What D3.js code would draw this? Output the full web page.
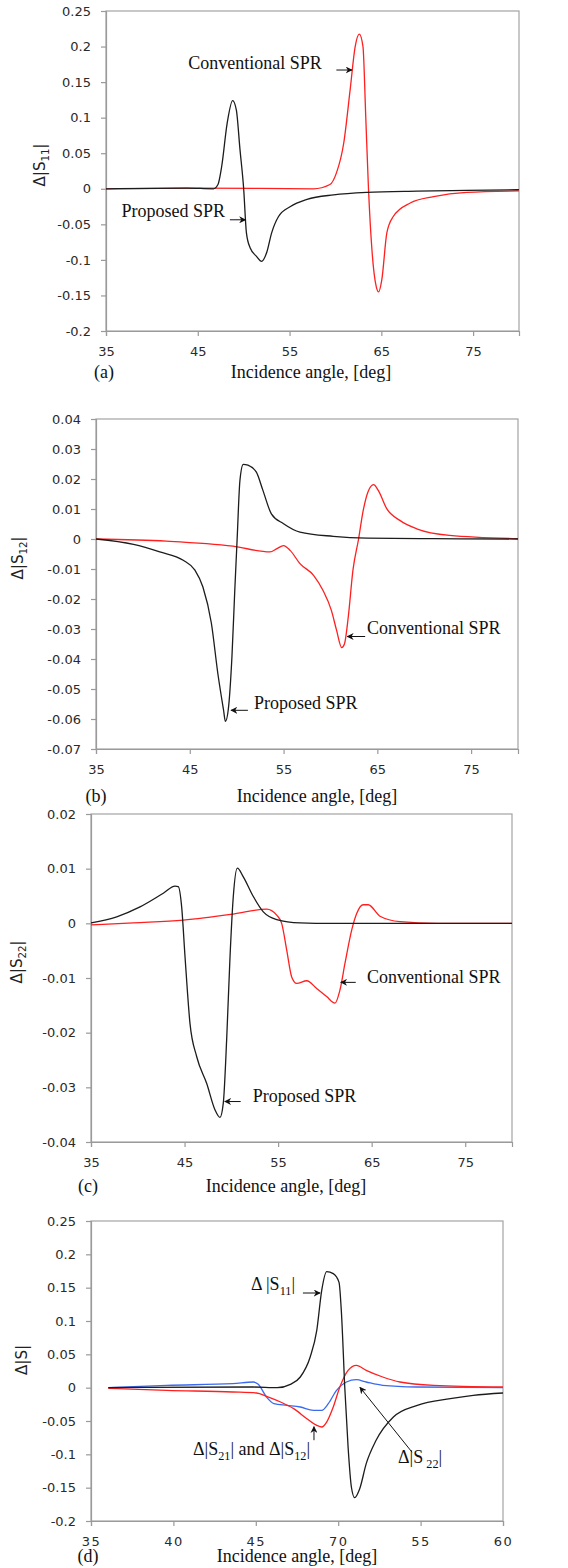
<!DOCTYPE html>
<html>
<head>
<meta charset="utf-8">
<script src="https://cdn.jsdelivr.net/npm/d3@7/dist/d3.min.js"></script>
<style>
  body { margin: 0; background: #fff; }
  .tick text { font-family: "DejaVu Sans", Verdana, sans-serif; font-size: 13px; fill: #2a2a2a; }
  .axis path, .axis line { stroke: #9a9a9a; }
  .serif { font-family: "Liberation Serif", "Times New Roman", serif; fill: #111; }
  .ylab { font-family: "DejaVu Sans", sans-serif; fill: #222; }
</style>
</head>
<body>
<div id="fig"></div>
<script>
// ---- data: [incidence angle (deg), delta value] ----
const aProposed = [[35,0],[43.8,0.001],[46.7,0],[47.2,0.006],[47.6,0.031],[48.2,0.092],[48.8,0.124],[49.2,0.111],
  [49.6,0.055],[50.0,0],[50.3,-0.062],[50.7,-0.083],[51.4,-0.095],[51.95,-0.102],[52.5,-0.09],[53.05,-0.062],
  [53.8,-0.039],[55.1,-0.025],[56.9,-0.015],[59.8,-0.0085],[63.4,-0.005],[68.9,-0.0033],[74.3,-0.0023],[80,-0.0013]];
const aConventional = [[35,0],[45,0.001],[57.6,0],[59.4,0.006],[60.1,0.022],[60.9,0.064],[61.6,0.139],[62.15,0.2],
  [62.6,0.2175],[63.0,0.2],[63.3,0.102],[63.6,0],[64.0,-0.09],[64.45,-0.138],[64.7,-0.145],[65.05,-0.128],
  [65.6,-0.062],[66.3,-0.039],[68.15,-0.02],[70.7,-0.011],[74.3,-0.005],[80,-0.003]];

const bProposed = [[35,0],[39,-0.0018],[41.8,-0.0043],[44.3,-0.0071],[45.55,-0.0104],[46.4,-0.016],[47.3,-0.028],
  [48.0,-0.045],[48.6,-0.057],[48.8,-0.0608],[49.1,-0.057],[49.5,-0.039],[49.8,-0.017],[50.05,0],[50.35,0.0196],
  [50.7,0.0249],[51.2,0.0246],[52.1,0.0223],[52.8,0.0162],[53.7,0.0084],[55,0.0051],[56.75,0.0023],[60.3,0.0009],
  [63.9,0.0003],[71,0.0001],[80,0]];
const bConventional = [[35,0],[42.5,-0.0007],[49.6,-0.0024],[53.55,-0.0043],[54.3,-0.0032],[55.0,-0.0022],
  [55.7,-0.0038],[56.75,-0.0082],[58.2,-0.0121],[59.2,-0.0171],[60.1,-0.0238],[60.65,-0.0304],[61.2,-0.0362],
  [61.5,-0.0349],[61.9,-0.026],[62.4,-0.0104],[63.0,0],[63.5,0.0096],[64.0,0.0157],[64.6,0.0181],[65.1,0.0162],
  [66.0,0.0101],[67.4,0.0062],[69.2,0.0034],[72.7,0.0012],[80,0.0001]];

const cProposed = [[35,0.0001],[37.75,0.0012],[40.24,0.003],[42.73,0.0055],[43.98,0.0068],[44.33,0.0067],
  [44.69,0.003],[45.05,-0.0061],[45.58,-0.0183],[46.3,-0.0244],[47.37,-0.0293],[48.25,-0.0341],[48.79,-0.0355],
  [49.14,-0.0329],[49.5,-0.0213],[49.86,-0.0061],[50.21,0.0049],[50.64,0.0101],[51.28,0.0085],[52.35,0.0049],
  [53.42,0.0021],[54.85,0.0007],[57.34,0.0001],[60.7,0],[80,0]];
const cConventional = [[35,-0.0003],[39.52,0.0001],[44.87,0.0006],[50.21,0.0017],[53.78,0.0026],[54.85,0.0015],
  [55.38,0],[55.92,-0.0049],[56.45,-0.0098],[56.99,-0.011],[58.06,-0.0105],[59.12,-0.0119],[60.19,-0.0134],
  [61.08,-0.0146],[61.61,-0.0122],[62.15,-0.0073],[62.87,-0.0012],[63.4,0.0018],[64.1,0.0034],[64.64,0.0034],
  [65.89,0.0013],[68.03,0.0003],[72,0],[80,0]];

const dS11 = [[36.05,0],[44.85,0.001],[46.3,0],[47.1,0.005],[47.7,0.016],[48.3,0.046],[48.7,0.086],[49.0,0.146],
  [49.3,0.174],[49.7,0.171],[50.05,0.158],[50.2,0.111],[50.4,0],[50.6,-0.089],[50.8,-0.149],[51.0,-0.165],
  [51.3,-0.152],[51.7,-0.114],[52.3,-0.079],[53.35,-0.044],[54.8,-0.0265],[56.8,-0.0165],[58.2,-0.0115],[60,-0.008]];
const dS21 = [[36.05,-0.001],[39.6,-0.004],[43.6,-0.0065],[45.05,-0.008],[45.65,-0.013],[46.5,-0.0215],
  [47.3,-0.0315],[48.1,-0.0465],[48.7,-0.0566],[49.0,-0.059],[49.3,-0.0516],[49.7,-0.029],[50.1,0.001],
  [50.6,0.026],[51.1,0.0335],[51.7,0.026],[52.7,0.016],[53.75,0.0085],[55.8,0.0035],[60,0.001]];
const dS22 = [[36.05,0],[39.6,0.0035],[43.6,0.006],[44.85,0.0085],[45.15,0.005],[45.65,-0.014],[46.1,-0.024],
  [46.9,-0.0265],[47.7,-0.029],[48.5,-0.034],[49.0,-0.034],[49.4,-0.024],[49.9,-0.004],[50.5,0.0085],
  [51.1,0.012],[51.7,0.0085],[52.7,0.0035],[54.75,0.001],[60,0]];

// tick labels
const xTicksABC = [35, 45, 55, 65, 75];
const xTicksD = [35, 40, 45, 50, 55, 60];
const xTickLabelsD = ["35", "40", "45", "70", "55", "60"]; // as printed in the figure
const yTicksA = [0.25, 0.2, 0.15, 0.1, 0.05, 0, -0.05, -0.1, -0.15, -0.2];
const yTicksB = [0.04, 0.03, 0.02, 0.01, 0, -0.01, -0.02, -0.03, -0.04, -0.05, -0.06, -0.07];
const yTicksC = [0.02, 0.01, 0, -0.01, -0.02, -0.03, -0.04];

const BLACK = '#1c1c1c', RED = '#ff1f1f', BLUE = '#3a6af0';

const svg = d3.select('#fig').append('svg')
  .attr('width', 568).attr('height', 1568);

svg.append('defs').append('marker')
  .attr('id', 'arrow')
  .attr('viewBox', '0 0 10 10')
  .attr('refX', 9).attr('refY', 5)
  .attr('markerWidth', 7).attr('markerHeight', 7)
  .attr('markerUnits', 'userSpaceOnUse')
  .attr('orient', 'auto')
  .append('path').attr('d', 'M0,0 L10,5 L0,10 L3,5 z').attr('fill', '#111');

// write text with subscripts: parts = [[string, isSub], ...]
function richText(sel, parts, size) {
  let shifted = false;
  parts.forEach(([t, sub]) => {
    const ts = sel.append('tspan').text(t);
    if (sub) {
      ts.attr('font-size', size * 0.68).attr('dy', shifted ? 0 : size * 0.28);
      shifted = true;
    } else {
      ts.attr('font-size', size).attr('dy', shifted ? -size * 0.28 : 0);
      shifted = false;
    }
  });
}

const fmt = d => String(+d.toFixed(3));

class SPanel {
  constructor(_config) {
    this.config = _config;
    this.initVis();
  }

  initVis() {
    let vis = this;
    const c = vis.config;

    vis.xScale = d3.scaleLinear().domain(c.xDomain).range([c.left, c.right]);
    vis.yScale = d3.scaleLinear().domain(c.yDomain).range([c.bottom, c.top]);

    vis.g = svg.append('g');

    // plot frame
    vis.g.append('rect')
      .attr('x', c.left).attr('y', c.top)
      .attr('width', c.right - c.left).attr('height', c.bottom - c.top)
      .attr('fill', 'none').attr('stroke', '#a3a3a3').attr('stroke-width', 1.2);

    const xAxis = d3.axisBottom(vis.xScale)
      .tickValues(c.xTicks).tickSize(5).tickPadding(11)
      .tickFormat((d, i) => c.xTickLabels ? c.xTickLabels[i] : d);
    const yAxis = d3.axisLeft(vis.yScale)
      .tickValues(c.yTicks).tickSize(5).tickPadding(10).tickFormat(fmt);

    vis.g.append('g').attr('class', 'axis')
      .attr('transform', `translate(0,${c.bottom})`)
      .call(xAxis)
      .call(g => g.selectAll('path, line').attr('stroke-width', 1.2))
      .call(g => g.selectAll('text').attr('letter-spacing', c.xLetterSpacing || 0));
    vis.g.append('g').attr('class', 'axis')
      .attr('transform', `translate(${c.left},0)`)
      .call(yAxis)
      .call(g => g.selectAll('path, line').attr('stroke-width', 1.2));

    // y label
    const yl = vis.g.append('text').attr('class', 'ylab')
      .attr('text-anchor', 'middle')
      .attr('transform', `translate(${c.yLabelX},${c.yLabelY}) rotate(-90)`)
      .attr('dy', '0.35em');
    richText(yl, c.yLabel, 15);

    // x title and panel tag
    vis.g.append('text').attr('class', 'serif')
      .attr('x', c.titleX).attr('y', c.titleY).attr('dy', '0.35em')
      .attr('text-anchor', 'middle').attr('font-size', 18)
      .text('Incidence angle, [deg]');
    vis.g.append('text').attr('class', 'serif')
      .attr('x', c.tagX).attr('y', c.titleY).attr('dy', '0.35em')
      .attr('text-anchor', 'middle').attr('font-size', 18)
      .text(c.tag);

    vis.updateVis();
  }

  updateVis() {
    let vis = this;
    const c = vis.config;

    const line = d3.line()
      .x(d => vis.xScale(d[0]))
      .y(d => vis.yScale(d[1]))
      .curve(d3.curveMonotoneX);

    vis.g.selectAll('.series')
      .data(c.series)
      .join('path')
      .attr('class', 'series')
      .attr('d', d => line(d.values))
      .attr('fill', 'none')
      .attr('stroke', d => d.color)
      .attr('stroke-width', 1.3);

    // annotations, placed in data units
    c.notes.forEach(n => {
      const t = vis.g.append('text').attr('class', 'serif')
        .attr('x', vis.xScale(n.x)).attr('y', vis.yScale(n.y))
        .attr('dy', '0.35em')
        .attr('text-anchor', n.anchor);
      richText(t, n.parts, 18);
      vis.g.append('line')
        .attr('x1', vis.xScale(n.arrow[0])).attr('y1', vis.yScale(n.arrow[1]))
        .attr('x2', vis.xScale(n.arrow[2])).attr('y2', vis.yScale(n.arrow[3]))
        .attr('stroke', '#111').attr('stroke-width', 1)
        .attr('marker-end', 'url(#arrow)');
    });
  }
}

new SPanel({
  left: 106, right: 519, top: 11, bottom: 331,
  xDomain: [35, 80], yDomain: [-0.2, 0.25],
  xTicks: xTicksABC, yTicks: yTicksA,
  yLabel: [['Δ|S', false], ['11', true], ['|', false]], yLabelX: 45, yLabelY: 165,
  titleX: 311, titleY: 372, tagX: 104, tag: '(a)',
  series: [{values: aConventional, color: RED}, {values: aProposed, color: BLACK}],
  notes: [
    {parts: [['Conventional SPR', false]], x: 58.5, y: 0.169, anchor: 'end', arrow: [60.1, 0.167, 61.8, 0.167]},
    {parts: [['Proposed SPR', false]], x: 47.97, y: -0.039, anchor: 'end', arrow: [48.5, -0.0436, 50.2, -0.0436]}
  ]
});

new SPanel({
  left: 96, right: 518, top: 419, bottom: 749,
  xDomain: [35, 80], yDomain: [-0.07, 0.04],
  xTicks: xTicksABC, yTicks: yTicksB,
  yLabel: [['Δ|S', false], ['12', true], ['|', false]], yLabelX: 23, yLabelY: 558,
  titleX: 317, titleY: 796, tagX: 96, tag: '(b)',
  series: [{values: bConventional, color: RED}, {values: bProposed, color: BLACK}],
  notes: [
    {parts: [['Conventional SPR', false]], x: 63.9, y: -0.0316, anchor: 'start', arrow: [63.7, -0.0325, 61.8, -0.0325]},
    {parts: [['Proposed SPR', false]], x: 51.85, y: -0.0566, anchor: 'start', arrow: [51.2, -0.0571, 49.4, -0.0571]}
  ]
});

new SPanel({
  left: 91, right: 512, top: 814, bottom: 1142,
  xDomain: [35, 80], yDomain: [-0.04, 0.02],
  xTicks: xTicksABC, yTicks: yTicksC,
  yLabel: [['Δ|S', false], ['22', true], ['|', false]], yLabelX: 22, yLabelY: 962,
  titleX: 286, titleY: 1186, tagX: 88, tag: '(c)',
  series: [{values: cConventional, color: RED}, {values: cProposed, color: BLACK}],
  notes: [
    {parts: [['Conventional SPR', false]], x: 64.5, y: -0.0109, anchor: 'start', arrow: [63.3, -0.0108, 61.7, -0.0108]},
    {parts: [['Proposed SPR', false]], x: 52.3, y: -0.0326, anchor: 'start', arrow: [51.0, -0.0326, 49.3, -0.0326]}
  ]
});

new SPanel({
  left: 91, right: 503, top: 1221, bottom: 1521,
  xDomain: [35, 60], yDomain: [-0.2, 0.25],
  xTicks: xTicksD, xTickLabels: xTickLabelsD, xLetterSpacing: 1.5, yTicks: yTicksA,
  yLabel: [['Δ|S|', false]], yLabelX: 27, yLabelY: 1360,
  titleX: 297, titleY: 1556, tagX: 88, tag: '(d)',
  series: [{values: dS22, color: BLUE}, {values: dS21, color: RED}, {values: dS11, color: BLACK}],
  notes: [
    {parts: [['Δ |S', false], ['11', true], ['|', false]], x: 47.38, y: 0.1464, anchor: 'end', arrow: [47.86, 0.142, 48.9, 0.142]},
    {parts: [['Δ|S', false], ['21', true], ['| and Δ|S', false], ['12', true], ['|', false]], x: 41.19, y: -0.101, anchor: 'start', arrow: [48.53, -0.0788, 48.53, -0.0585]},
    {parts: [['Δ|S', false], [' 22', true], ['|', false]], x: 53.63, y: -0.1134, anchor: 'start', arrow: [54.48, -0.0968, 51.32, 0.0005]}
  ]
});
</script>
</body>
</html>
